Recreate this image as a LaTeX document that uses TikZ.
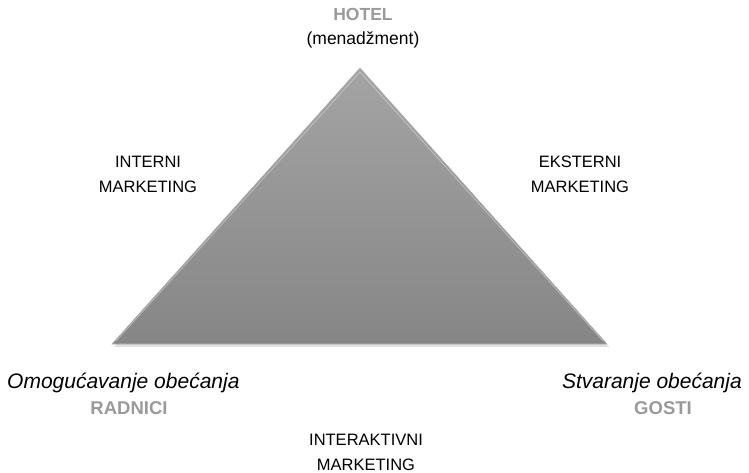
\documentclass[tikz,border=0pt]{standalone}
\usepackage{fontspec}
\setmainfont{Liberation Sans}
\definecolor{lbl}{HTML}{9A9A9A}
\definecolor{tritop}{HTML}{A4A4A4}
\definecolor{tribot}{HTML}{868686}
\begin{document}
\begin{tikzpicture}[x=1pt,y=-1pt,
  txt/.style={align=center,font=\fontsize{16.5}{24.5}\selectfont,inner sep=0pt},
  top/.style={align=center,font=\fontsize{17.5}{24.5}\selectfont,inner sep=0pt},
  itx/.style={font=\fontsize{21}{24}\selectfont\itshape,inner sep=0pt},
  who/.style={font=\fontsize{18.5}{24}\selectfont\bfseries,text=lbl,inner sep=0pt}]
\useasboundingbox (0,0) rectangle (749,473);
% shadow
\fill[black!12] (114,347) -- (609,347) -- (362,71) -- cycle;
\shade[top color=tritop,bottom color=tribot,draw=black!30,line width=0.6pt]
  (112,344) coordinate (bl) -- (607,344) coordinate (br) -- (360,68) coordinate (ap) -- cycle;
\draw[white!80!gray,line width=0.8pt,opacity=0.5] (116,341) -- (360,72) -- (603,341);
\node[top] (hotel) at (363,28) {\textcolor{lbl}{\textbf{HOTEL}}\\(menadžment)};
\node[txt] (interni) at (148,174.5) {INTERNI\\MARKETING};
\node[txt] (eksterni) at (580,174.5) {EKSTERNI\\MARKETING};
\node[itx,anchor=west] (omog) at (7,383) {Omogućavanje obećanja};
\node[who] (radnici) at (129,408) {RADNICI};
\node[itx,anchor=east] (stvar) at (742,383) {Stvaranje obećanja};
\node[who] (gosti) at (663,408) {GOSTI};
\node[txt] (inter) at (366,452.5) {INTERAKTIVNI\\MARKETING};
\end{tikzpicture}
\end{document}
